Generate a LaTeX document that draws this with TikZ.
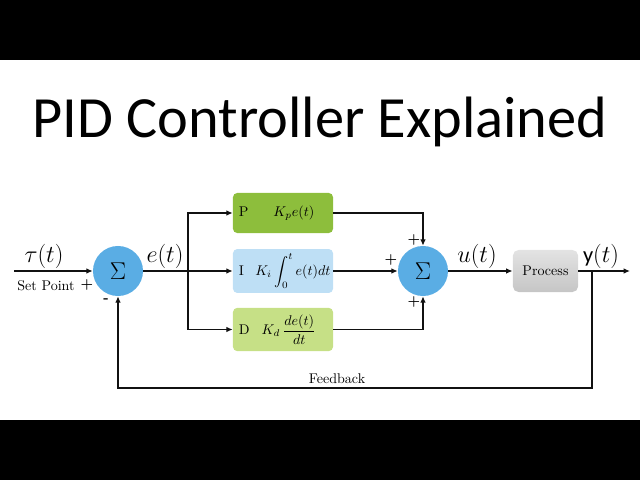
\documentclass[tikz,border=0pt]{standalone}
\usepackage{fontspec}
\usepackage{amsmath}
\newfontfamily\titlefont{Carlito}
\usetikzlibrary{arrows.meta,positioning}
\definecolor{ink}{HTML}{111111}
\definecolor{sumfill}{HTML}{5AADE4}
\definecolor{pfill}{HTML}{8DBE3C}
\definecolor{ifill}{HTML}{BEDFF5}
\definecolor{dfill}{HTML}{C6E086}
\tikzset{
  sumnode/.style={circle, fill=sumfill, minimum size=1.25cm, inner sep=0pt, font=\fontsize{16}{18}\selectfont},
  termbox/.style={rounded corners=3pt, minimum width=2.5cm, minimum height=1cm, inner xsep=0.15cm, text width=2.2cm, align=left, font=\fontsize{10}{12}\selectfont},
  procbox/.style={rounded corners=4pt, top color=gray!22, bottom color=gray!45, minimum width=1.63cm, minimum height=1.05cm, font=\fontsize{10}{12}\selectfont},
  sig/.style={font=\fontsize{16}{18}\selectfont},
  sign/.style={font=\bfseries\fontsize{10}{12}\selectfont},
  note/.style={font=\fontsize{10}{12}\selectfont},
  arrow/.style={-{Latex[length=1.6mm,width=1.4mm]}, line width=0.9pt, draw=ink},
  wire/.style={line width=0.9pt, draw=ink}
}

\begin{document}
\begin{tikzpicture}[x=0.025cm, y=-0.025cm]
  \useasboundingbox (0,0) rectangle (640,480);
  \fill[black] (0,0) rectangle (640,60);
  \fill[black] (0,420) rectangle (640,480);

  \node[anchor=base, font=\titlefont\fontsize{41.5}{48}\selectfont] (title) at (320,137) {PID Controller Explained};

  % summing junctions
  \node[sumnode] (sum1) at (118,271) {$\Sigma$};
  \node[sumnode] (sum2) at (423,271) {$\Sigma$};

  % controller terms
  \node[termbox, fill=pfill] (pbox) at (283,213) {\mbox{P\hspace{6.2mm}$K_{p}e(t)$}};
  \node[termbox, fill=ifill, minimum height=1.05cm] (ibox) at (283,271) {\mbox{I\hspace{2.8mm}$K_i\displaystyle\int_0^t e(t)dt$}};
  \node[termbox, fill=dfill, minimum height=1.08cm] (dbox) at (283,329.5) {\mbox{D\hspace{3mm}$K_d\,\dfrac{de(t)}{dt}$}};

  \node[procbox] (proc) at (545.5,271) {Process};

  \coordinate (in) at (14,271);
  \coordinate (split) at (188,271);
  \coordinate (yout) at (592,271);
  \coordinate (out) at (630,271);

  % labels
  \node[sig] (tau) at (44,256) {$\tau(t)$};
  \node[note] (setpoint) at (46,286) {Set Point};
  \node[sign] (plus1) at (87,285) {+};
  \node[sign] (minus1) at (106,301) {-};
  \node[sig] (err) at (165,256) {$e(t)$};
  \node[sign] (plus2) at (414,240) {+};
  \node[sign] (plus3) at (391,260) {+};
  \node[sign] (plus4) at (414,302) {+};
  \node[sig] (ctrl) at (477,256) {$u(t)$};
  \node[sig] (yt) at (601,256) {{\titlefont y}$(t)$};
  \node[note] (fb) at (337,379) {Feedback};

  % connections
  \draw[arrow] (in) -- (sum1);
  \draw[wire] (sum1) -- (split);
  \draw[arrow] (split) |- (pbox.west);
  \draw[arrow] (split) -- (ibox);
  \draw[arrow] (split) |- (dbox.west);
  \draw[arrow] (pbox.east) -| (sum2.north);
  \draw[arrow] (ibox) -- (sum2);
  \draw[arrow] (dbox.east) -| (sum2.south);
  \draw[arrow] (sum2) -- (proc);
  \draw[arrow] (proc) -- (out);
  \draw[arrow] (yout) -- ++(0,117) -| (sum1.south);
\end{tikzpicture}
\end{document}
